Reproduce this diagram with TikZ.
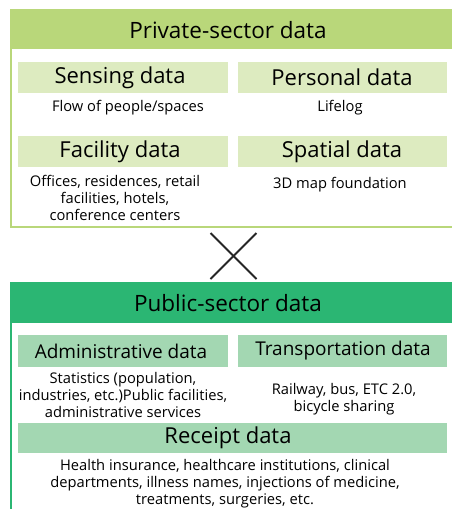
\documentclass[tikz,border=0pt]{standalone}
\usepackage{fontspec}
\setmainfont{Open Sans}
\definecolor{privhead}{HTML}{B9D77A}
\definecolor{privsub}{HTML}{DDEBC0}
\definecolor{pubhead}{HTML}{2BB673}
\definecolor{pubsub}{HTML}{A3D7B2}
\begin{document}
\begin{tikzpicture}[x=1pt,y=-1pt,
  head/.style={font=\fontsize{22.5}{26}\selectfont, text=black},
  sub/.style={font=\fontsize{22}{24}\selectfont, text=black},
  subs/.style={font=\fontsize{19}{22}\selectfont, text=black},
  body/.style={font=\fontsize{14.7}{17}\selectfont, align=center, text=black},
]
\useasboundingbox (0,0) rectangle (451,509);
% private box
\fill[white] (11,10) rectangle (452,227);
\fill[privhead] (11,10) rectangle (452,49);
\draw[privhead, line width=1.5pt] (452,10) -- (11,10) -- (11,227) -- (452,227);
\node[head] (privt) at (228,30) {Private-sector data};
\fill[privsub] (18,62) rectangle (228,93);
\fill[privsub] (238,62) rectangle (447,93);
\fill[privsub] (18,136) rectangle (228,167);
\fill[privsub] (238,136) rectangle (447,167);
\node[sub] (sens) at (120,77.5) {Sensing data};
\node[sub] (pers) at (342,77.5) {Personal data};
\node[sub] (fac) at (120,151.5) {Facility data};
\node[sub] (spat) at (342,151.5) {Spatial data};
\node[body] (senst) at (128,108) {Flow of people/spaces};
\node[body] (perst) at (340,108) {Lifelog};
\node[body] (fact) at (115,198) {Offices, residences, retail\\facilities, hotels,\\conference centers};
\node[body] (spatt) at (340,185) {3D map foundation};
% cross
\coordinate (cx) at (233.5,256);
\draw[black!85, line width=2pt] (210.5,233) -- (256.5,279);
\draw[black!85, line width=2pt] (256.5,233) -- (210.5,279);
% public box
\fill[pubhead] (11,283) rectangle (452,323);
\draw[pubhead, line width=1.5pt] (452,283) -- (11,283) -- (11,510);
\node[head] (pubt) at (228,303) {Public-sector data};
\fill[pubsub] (18,335) rectangle (228,367);
\fill[pubsub] (238,335) rectangle (447,367);
\fill[pubsub] (18,423) rectangle (447,453);
\node[subs] (adm) at (121,351) {Administrative data};
\node[subs] (tra) at (343,351) {Transportation data};
\node[sub] (rec) at (228,438) {Receipt data};
\node[body] (admt) at (123,395) {Statistics (population,\\industries, etc.)Public facilities,\\administrative services};
\node[body] (trat) at (344,399.5) {Railway, bus, ETC 2.0,\\bicycle sharing};
\node[body] (rect) at (225,484) {Health insurance, healthcare institutions, clinical\\departments, illness names, injections of medicine,\\treatments, surgeries, etc.};
\end{tikzpicture}
\end{document}
